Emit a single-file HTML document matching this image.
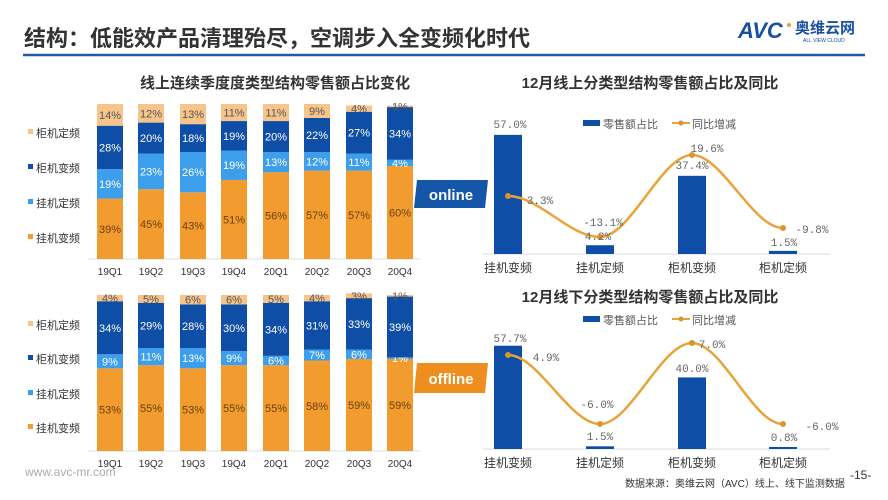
<!DOCTYPE html>
<html><head><meta charset="utf-8"><style>
body{margin:0;background:#fff;}
svg{display:block;font-family:"Liberation Sans","Noto Sans CJK SC",sans-serif;}
</style></head><body>
<svg id="s" width="888" height="500" viewBox="0 0 888 500" xmlns="http://www.w3.org/2000/svg">
<rect width="888" height="500" fill="#fff"/>
<text x="24" y="46" font-size="22" font-weight="bold" fill="#333">结构：低能效产品清理殆尽，空调步入全变频化时代</text>
<line x1="23" y1="55" x2="865" y2="55" stroke="#1F5AA6" stroke-width="2.5"/>
<text x="738" y="38" font-size="22" font-weight="bold" font-style="italic" fill="#1a4fa0" font-family="Liberation Sans,sans-serif">AVC</text>
<circle cx="789" cy="25" r="2" fill="#f39c2b"/>
<text x="795" y="33" font-size="15" font-weight="bold" fill="#1a4fa0">奥维云网</text>
<text x="803" y="42" font-size="5" fill="#1a4fa0">ALL VIEW CLOUD</text>
<text x="275" y="88" font-size="15" font-weight="bold" fill="#333" text-anchor="middle">线上连续季度度类型结构零售额占比变化</text>
<text x="650" y="88" font-size="15" font-weight="bold" fill="#333" text-anchor="middle">12月线上分类型结构零售额占比及同比</text>
<text x="650" y="302" font-size="15" font-weight="bold" fill="#333" text-anchor="middle">12月线下分类型结构零售额占比及同比</text>
<g id="g"></g>
<polygon points="417,180 488,180 485,208 414,208" fill="#1456a8"/>
<text x="451" y="200" font-size="15" font-weight="bold" fill="#fff" text-anchor="middle">online</text>
<polygon points="417,363 488,363 485,393 414,393" fill="#EE8E1F"/>
<text x="451" y="384" font-size="15" font-weight="bold" fill="#fff" text-anchor="middle">offline</text>
<text x="25" y="476" font-size="12" fill="#aaa">www.avc-mr.com</text>
<text x="625" y="487" font-size="10" fill="#333">数据来源：奥维云网（AVC）线上、线下监测数据</text>
<text x="850" y="479" font-size="12" fill="#333">-15-</text>
</svg>
<script>
var g=document.getElementById('g'),NS='http://www.w3.org/2000/svg';
function el(t,a,txt){var e=document.createElementNS(NS,t);for(var k in a)e.setAttribute(k,a[k]);if(txt!=null)e.textContent=txt;g.appendChild(e);return e;}
var cols=['#F29B2E','#3D9EEB','#0F4EA6','#F7C48C'],tcol=['#6b4212','#fff','#fff','#555'];
var names=['柜机定频','柜机变频','挂机定频','挂机变频'],lc=['#F7C48C','#0F4EA6','#3D9EEB','#F29B2E'];
var cx=[110,151,193,234,276,317,359,400],q=['19Q1','19Q2','19Q3','19Q4','20Q1','20Q2','20Q3','20Q4'];
function stack(base,sc,data,ly){
 el('line',{x1:88,y1:base,x2:420,y2:base,stroke:'#ddd'});
 data.forEach(function(d,i){var y=base;d.forEach(function(v,j){var h=v*sc;y-=h;
  el('rect',{x:cx[i]-13,y:y,width:26,height:h,fill:cols[j]});
  el('text',{x:cx[i],y:y+h/2+4,'font-size':11,fill:tcol[j],'text-anchor':'middle'},v+'%');});
  el('text',{x:cx[i],y:base+16,'font-size':10,fill:'#333','text-anchor':'middle'},q[i]);});
 ly.forEach(function(y,k){el('rect',{x:28,y:y-4,width:5,height:5,fill:lc[k]});el('text',{x:36,y:y+4,'font-size':11,fill:'#333'},names[k]);});
}
stack(259,1.55,[[39,19,28,14],[45,23,20,12],[43,26,18,13],[51,19,19,11],[56,13,20,11],[57,12,22,9],[57,11,27,4],[60,4,34,1]],[133,168,203,238]);
stack(451,1.56,[[53,9,34,4],[55,11,29,5],[53,13,28,6],[55,9,30,6],[55,6,34,5],[58,7,31,4],[59,6,33,3],[59,1,39,1]],[325,359,394,428]);
var bx=[508,600,692,783],cat=['挂机变频','挂机定频','柜机变频','柜机定频'];
function combo(base,sc,vals,pts,labs,ly){
 el('line',{x1:483,y1:base,x2:830,y2:base,stroke:'#ddd'});
 vals.forEach(function(v,i){var h=Math.max(v*sc,2);el('rect',{x:bx[i]-14,y:base-h,width:28,height:h,fill:'#0F4EA6'});
  el('text',{x:bx[i],y:base+18,'font-size':12,fill:'#333','text-anchor':'middle'},cat[i]);});
 var d='M'+bx[0]+','+pts[0];
 for(var i=0;i<3;i++){var x0=bx[i],x1=bx[i+1],dx=(x1-x0)/3;d+=' C'+(x0+dx)+','+pts[i]+' '+(x1-dx)+','+pts[i+1]+' '+x1+','+pts[i+1];}
 el('path',{d:d,fill:'none',stroke:'#E8A33A','stroke-width':2.5});
 pts.forEach(function(p,i){el('circle',{cx:bx[i],cy:p,r:3,fill:'#D9962E'});});
 labs.forEach(function(l){el('text',{x:l[0],y:l[1],'font-size':11,fill:'#666','text-anchor':'middle','font-family':'Liberation Mono,monospace'},l[2]);});
 el('rect',{x:583,y:ly-4,width:17,height:6,fill:'#0F4EA6'});
 el('text',{x:603,y:ly+4,'font-size':11,fill:'#555'},'零售额占比');
 el('line',{x1:672,y1:ly-1,x2:690,y2:ly-1,stroke:'#E8A33A','stroke-width':2});
 el('circle',{cx:681,cy:ly-1,r:2.5,fill:'#D9962E'});
 el('text',{x:692,y:ly+4,'font-size':11,fill:'#555'},'同比增减');
}
combo(254,2.09,[57,4.2,37.4,1.5],[196,237,155,228],[[510,128,'57.0%'],[540,204,'3.3%'],[603,226,'-13.1%'],[598,240,'4.2%'],[707,152,'19.6%'],[692,169,'37.4%'],[812,233,'-9.8%'],[784,246,'1.5%']],124);
combo(449,1.79,[57.7,1.5,40,0.8],[355,424,343,424],[[510,342,'57.7%'],[546,361,'4.9%'],[597,408,'-6.0%'],[600,440,'1.5%'],[712,348,'7.0%'],[692,372,'40.0%'],[822,430,'-6.0%'],[784,441,'0.8%']],320);
</script>
</body></html>
